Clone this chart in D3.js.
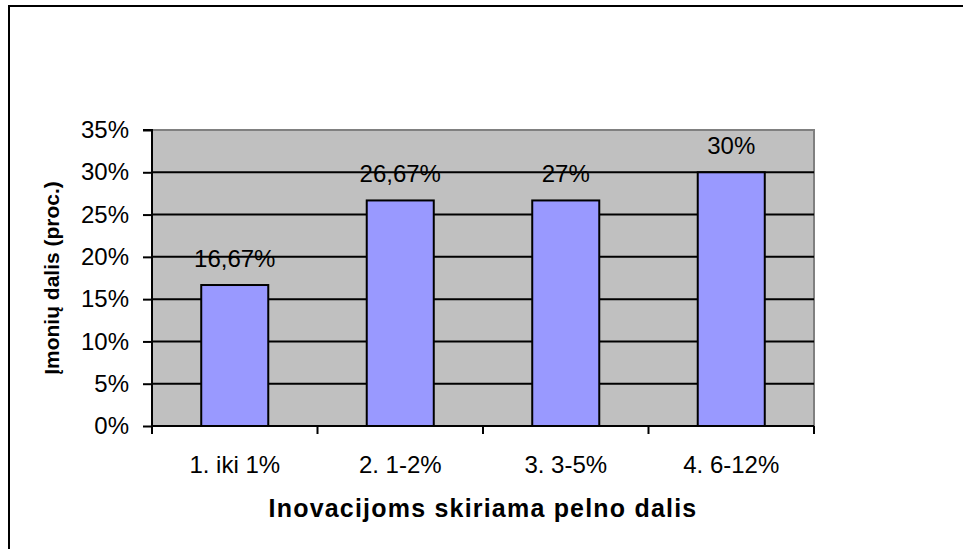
<!DOCTYPE html>
<html><head><meta charset="utf-8">
<script src="https://cdn.jsdelivr.net/npm/d3@7"></script>
<style>
html,body{margin:0;padding:0;background:#fff;}
svg{display:block;font-family:Arial,"Liberation Sans",sans-serif;}
</style></head>
<body>
<svg id="chart" width="963" height="549"></svg>
<script>
const categories = ["1. iki 1%", "2. 1-2%", "3. 3-5%", "4. 6-12%"];
const values = [16.67, 26.67, 26.67, 30];
const valueLabels = ["16,67%", "26,67%", "27%", "30%"];
const yTicks = [0, 5, 10, 15, 20, 25, 30, 35];
const xTitle = "Inovacijoms skiriama pelno dalis";
const yTitle = "Įmonių dalis (proc.)";

const svg = d3.select("#chart");
const m = {left: 152, top: 130, right: 814, bottom: 426};
const FS = 24;

// outer frame (only top & left visible)
svg.append("path").attr("d", "M9,549 V6 H963").attr("fill","none").attr("stroke","#000").attr("stroke-width",2);

const x = d3.scaleBand().domain(categories).range([m.left, m.right]).paddingInner(0.595).paddingOuter(0.2975);
const xb = d3.scaleBand().domain(categories).range([m.left, m.right]);
const y = d3.scaleLinear().domain([0, 35]).range([m.bottom, m.top]);

svg.append("rect").attr("x", m.left).attr("y", m.top).attr("width", m.right - m.left).attr("height", m.bottom - m.top)
  .attr("fill", "#C0C0C0").attr("stroke", "#808080").attr("stroke-width", 2);

// gridlines
svg.append("g").selectAll("line").data(yTicks.filter(t => t > 0 && t < 35)).join("line")
  .attr("x1", m.left).attr("x2", m.right).attr("y1", d => y(d)).attr("y2", d => y(d))
  .attr("stroke", "#000").attr("stroke-width", 2);

// bars
svg.append("g").selectAll("rect").data(values).join("rect")
  .attr("x", (d,i) => x(categories[i])).attr("width", x.bandwidth())
  .attr("y", d => y(d)).attr("height", d => y(0) - y(d))
  .attr("fill", "#9999FF").attr("stroke", "#000").attr("stroke-width", 2);

// y axis
const yAxis = d3.axisLeft(y).tickValues(yTicks).tickFormat(d => d + "%").tickSize(9).tickPadding(14);
const gy = svg.append("g").attr("transform", `translate(${m.left},0)`).call(yAxis);
gy.select(".domain").attr("stroke", "#000").attr("stroke-width", 2).attr("d", `M-9,${m.top}H0V${m.bottom}`);
gy.selectAll(".tick line").attr("stroke", "#000").attr("stroke-width", 2);
gy.selectAll("text").attr("font-size", FS).attr("fill", "#000").attr("font-family", "Arial,'Liberation Sans',sans-serif");

// x axis
const gx = svg.append("g").attr("transform", `translate(0,${m.bottom})`);
gx.append("line").attr("x1", m.left).attr("x2", m.right).attr("stroke", "#000").attr("stroke-width", 2);
const bounds = categories.map(c => xb(c)).concat([m.right]);
gx.selectAll(".tk").data(bounds).join("line").attr("class","tk")
  .attr("x1", d => d).attr("x2", d => d).attr("y1", 0).attr("y2", 8).attr("stroke", "#000").attr("stroke-width", 2);
gx.selectAll(".lb").data(categories).join("text").attr("class","lb")
  .attr("x", d => xb(d) + xb.bandwidth()/2).attr("y", 47).attr("text-anchor","middle")
  .attr("font-size", FS).attr("fill","#000").text(d => d);

// data labels
svg.append("g").selectAll("text").data(values).join("text")
  .attr("x", (d,i) => x(categories[i]) + x.bandwidth()/2).attr("y", d => y(d) - 18)
  .attr("text-anchor","middle").attr("font-size", FS).attr("fill","#000")
  .text((d,i) => valueLabels[i]);

// titles
svg.append("text").attr("x", (m.left + m.right)/2).attr("y", 517).attr("text-anchor","middle")
  .attr("font-size", 25).attr("letter-spacing", 1.2).attr("font-weight","bold").attr("fill","#000").text(xTitle);
svg.append("text").attr("transform", `translate(59,${(m.top+m.bottom)/2}) rotate(-90)`).attr("text-anchor","middle")
  .attr("font-size", 21).attr("font-weight","bold").attr("fill","#000").text(yTitle);
</script>
</body></html>
